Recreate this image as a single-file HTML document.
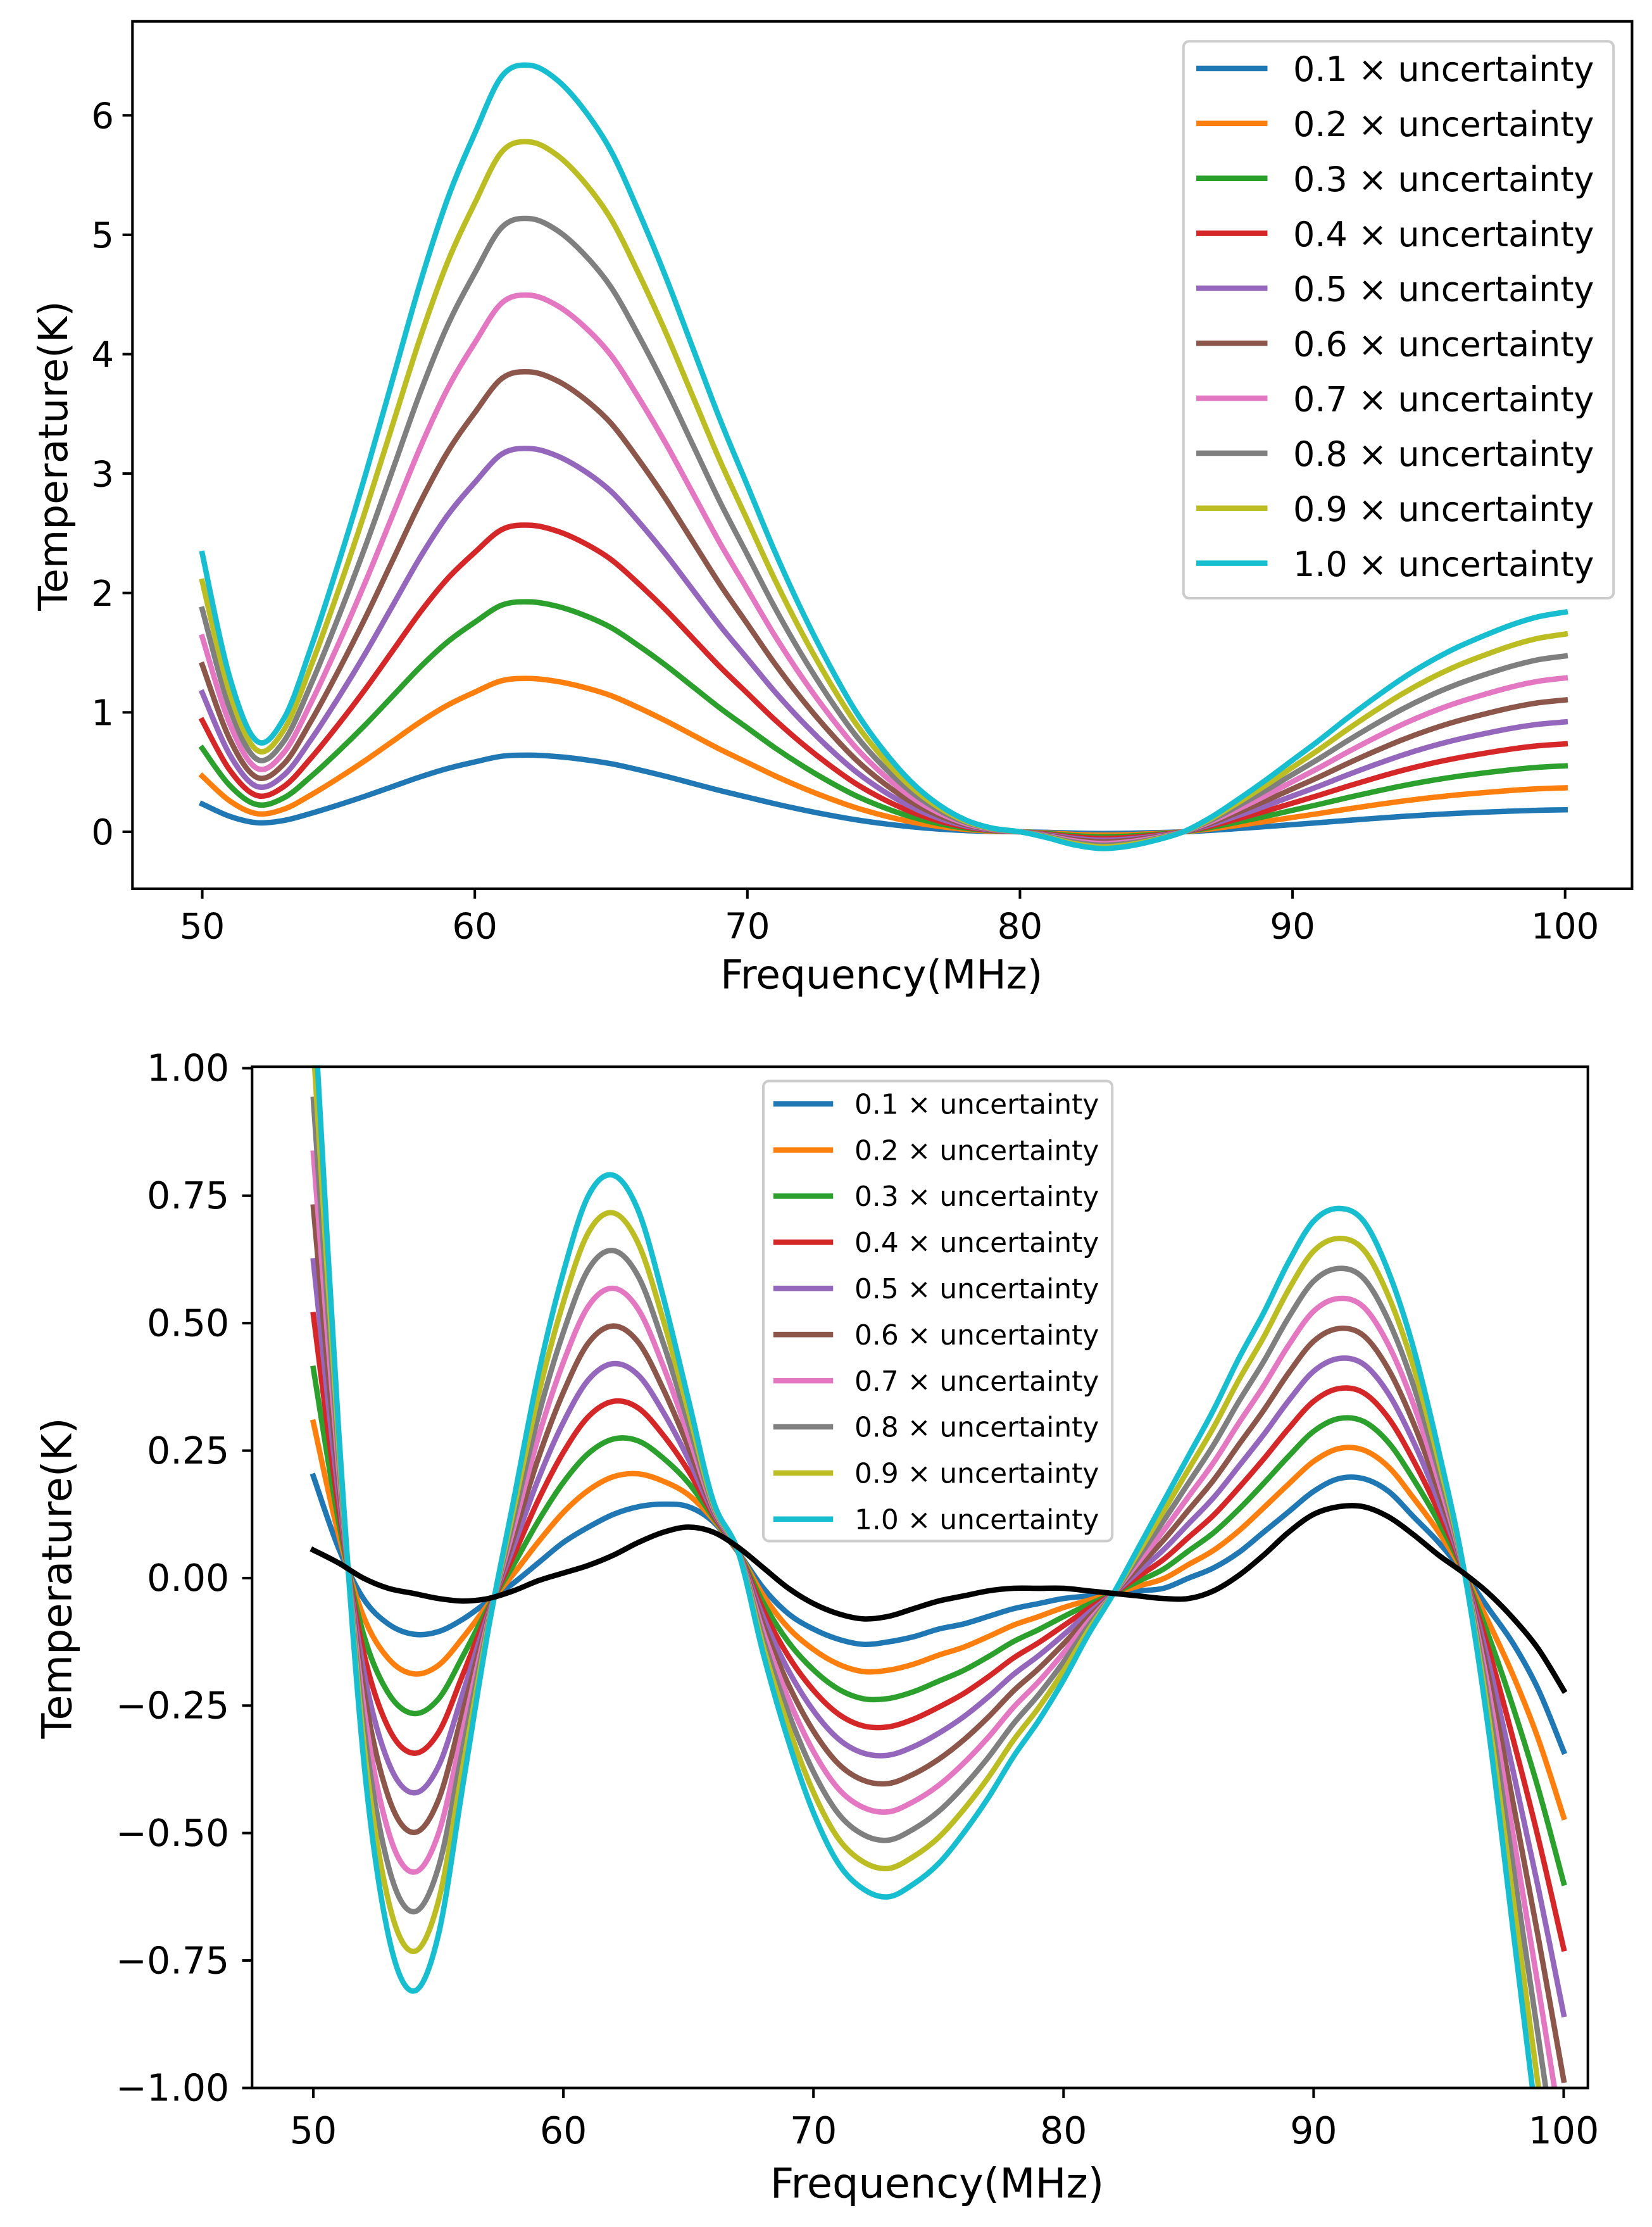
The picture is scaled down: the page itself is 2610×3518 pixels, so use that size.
<!DOCTYPE html>
<html><head><meta charset="utf-8">
<style>
html,body{margin:0;padding:0;background:#fff;width:2610px;height:3518px;overflow:hidden;}
svg{display:block;}
text{font-family:"DejaVu Sans","Liberation Sans",sans-serif;fill:#000;}
</style></head>
<body>
<svg id="fig" width="2610" height="3518" viewBox="0 0 1160 1563.6" xmlns="http://www.w3.org/2000/svg">
<defs>
<clipPath id="clipTop"><rect x="93" y="15" width="1053" height="609"/></clipPath>
<clipPath id="clipBot"><rect x="177" y="748" width="938" height="718"/></clipPath>
</defs>
<g id="topChart"></g>
<g id="botChart"></g>
</svg>
<script>
// ---- data ----
const freqs = [50,51,52,53,54,55,56,57,58,59,60,61,62,63,64,65,66,67,68,69,70,71,72,73,74,75,76,77,78,79,80,81,82,83,84,85,86,87,88,89,90,91,92,93,94,95,96,97,98,99,100];
const scales = [0.1,0.2,0.3,0.4,0.5,0.6,0.7,0.8,0.9,1.0];
const colors = ['#1f77b4','#ff7f0e','#2ca02c','#d62728','#9467bd','#8c564b','#e377c2','#7f7f7f','#bcbd22','#17becf'];
const labels = ['0.1 × uncertainty','0.2 × uncertainty','0.3 × uncertainty','0.4 × uncertainty','0.5 × uncertainty','0.6 × uncertainty','0.7 × uncertainty','0.8 × uncertainty','0.9 × uncertainty','1.0 × uncertainty'];
// top: 1.0 × uncertainty curve; others scale by factor
const topFull = [2.33,1.3,0.76,0.95,1.55,2.25,3.0,3.8,4.6,5.3,5.85,6.33,6.42,6.30,6.05,5.7,5.2,4.65,4.05,3.45,2.9,2.35,1.85,1.4,1.0,0.68,0.42,0.23,0.1,0.03,0.0,-0.05,-0.11,-0.14,-0.12,-0.07,0.0,0.12,0.27,0.43,0.6,0.77,0.95,1.12,1.28,1.42,1.54,1.64,1.73,1.8,1.84];
// bottom: 0.1 and 1.0 curves, intermediate interpolated
const botLow = [0.20,0.06,-0.04,-0.09,-0.11,-0.105,-0.08,-0.045,-0.01,0.03,0.07,0.10,0.125,0.14,0.145,0.14,0.11,0.05,-0.02,-0.07,-0.10,-0.12,-0.13,-0.125,-0.115,-0.10,-0.09,-0.075,-0.06,-0.05,-0.04,-0.035,-0.03,-0.025,-0.02,0.0,0.02,0.05,0.09,0.13,0.17,0.195,0.195,0.17,0.12,0.07,0.01,-0.06,-0.13,-0.22,-0.34];
const botHigh = [1.15,0.30,-0.35,-0.70,-0.81,-0.70,-0.40,-0.10,0.15,0.40,0.60,0.75,0.79,0.72,0.55,0.35,0.15,0.05,-0.15,-0.32,-0.46,-0.56,-0.61,-0.625,-0.60,-0.56,-0.50,-0.43,-0.35,-0.28,-0.20,-0.11,-0.03,0.06,0.15,0.24,0.33,0.43,0.52,0.62,0.70,0.725,0.70,0.60,0.45,0.25,0.02,-0.30,-0.70,-1.10,-1.50];
const botBlack = [0.055,0.03,0.0,-0.02,-0.03,-0.04,-0.045,-0.04,-0.025,-0.005,0.01,0.025,0.045,0.07,0.09,0.10,0.09,0.06,0.02,-0.02,-0.05,-0.07,-0.08,-0.075,-0.06,-0.045,-0.035,-0.025,-0.02,-0.02,-0.02,-0.025,-0.03,-0.035,-0.04,-0.04,-0.025,0.005,0.045,0.09,0.125,0.14,0.14,0.12,0.085,0.045,0.01,-0.03,-0.08,-0.14,-0.22];
const topXTicks = [50,60,70,80,90,100];
const topYTicks = [0,1,2,3,4,5,6];
const botXTicks = [50,60,70,80,90,100];
const botYTicks = [-1.0,-0.75,-0.5,-0.25,0.0,0.25,0.5,0.75,1.0];
const botYLabels = ['\u22121.00','\u22120.75','\u22120.50','\u22120.25','0.00','0.25','0.50','0.75','1.00'];

const LW = 3.8;
const NS='http://www.w3.org/2000/svg';
function mk(parent,tag,attrs,txt){const e=document.createElementNS(NS,tag);for(const k in attrs)e.setAttribute(k,attrs[k]);if(txt!==undefined)e.textContent=txt;parent.appendChild(e);return e;}
function smooth(pts){
  let d='M'+pts[0][0].toFixed(2)+','+pts[0][1].toFixed(2);
  for(let i=0;i<pts.length-1;i++){
    const p0=pts[Math.max(i-1,0)],p1=pts[i],p2=pts[i+1],p3=pts[Math.min(i+2,pts.length-1)];
    const c1=[p1[0]+(p2[0]-p0[0])/6,p1[1]+(p2[1]-p0[1])/6];
    const c2=[p2[0]-(p3[0]-p1[0])/6,p2[1]-(p3[1]-p1[1])/6];
    d+=' C'+c1[0].toFixed(2)+','+c1[1].toFixed(2)+' '+c2[0].toFixed(2)+','+c2[1].toFixed(2)+' '+p2[0].toFixed(2)+','+p2[1].toFixed(2);
  }
  return d;
}

// ---- top chart ----
const topG=document.getElementById('topChart');
const tx=v=>142+(v-50)*(1099-142)/50;
const ty=v=>584-v*(584-81)/6;
const tPlot=mk(topG,'g',{'clip-path':'url(#clipTop)'});


scales.forEach((s,i)=>{
  const pts=freqs.map((f,j)=>[tx(f),ty(topFull[j]*s)]);
  const p=mk(tPlot,'path',{d:smooth(pts),fill:'none',stroke:colors[i],'stroke-width':LW,'stroke-linejoin':'round','stroke-linecap':'square'});
  
  
});
const tFrame=mk(topG,'rect',{x:93,y:15,width:1053,height:609,fill:'none',stroke:'#000','stroke-width':1.8});


topXTicks.forEach(v=>{
  mk(topG,'line',{x1:tx(v),x2:tx(v),y1:624,y2:631,stroke:'#000','stroke-width':1.8});
  const t=mk(topG,'text',{x:tx(v),y:659,'font-size':25,'text-anchor':'middle'},String(v));
  
  
});
topYTicks.forEach(v=>{
  mk(topG,'line',{x1:86,x2:93,y1:ty(v),y2:ty(v),stroke:'#000','stroke-width':1.8});
  const t=mk(topG,'text',{x:80,y:ty(v)+9,'font-size':25,'text-anchor':'end'},String(v));
  
  
});
let e=mk(topG,'text',{x:619,y:694,'font-size':28,'text-anchor':'middle'},'Frequency(MHz)');


e=mk(topG,'text',{x:0,y:0,'font-size':28,'text-anchor':'middle',transform:'translate(47,320) rotate(-90)'},'Temperature(K)');


const tLeg=mk(topG,'g',{});


mk(tLeg,'rect',{x:831,y:29,width:302,height:391,rx:4,fill:'#fff','fill-opacity':0.8,stroke:'#ccc','stroke-width':1.8});
labels.forEach((l,i)=>{
  const y=48+i*38.6;
  const g=mk(tLeg,'g',{});
  
  
  mk(g,'line',{x1:840,x2:890,y1:y,y2:y,stroke:colors[i],'stroke-width':LW});
  mk(g,'text',{x:908,y:y+9,'font-size':24},l);
});

// ---- bottom chart ----
const botG=document.getElementById('botChart');
const bx=v=>220+(v-50)*(1098-220)/50;
const by=v=>1108-v*(1466-750)/2;
const bPlot=mk(botG,'g',{'clip-path':'url(#clipBot)'});


scales.forEach((s,i)=>{
  const w=(s-0.1)/0.9;
  const pts=freqs.map((f,j)=>[bx(f),by(botLow[j]+(botHigh[j]-botLow[j])*w)]);
  const p=mk(bPlot,'path',{d:smooth(pts),fill:'none',stroke:colors[i],'stroke-width':LW,'stroke-linejoin':'round','stroke-linecap':'square'});
  
  
});
const blk=mk(bPlot,'path',{d:smooth(freqs.map((f,j)=>[bx(f),by(botBlack[j])])),fill:'none',stroke:'#000','stroke-width':LW,'stroke-linecap':'square'});


const bFrame=mk(botG,'rect',{x:177,y:749,width:938,height:717,fill:'none',stroke:'#000','stroke-width':1.8});


botXTicks.forEach(v=>{
  mk(botG,'line',{x1:bx(v),x2:bx(v),y1:1466,y2:1473,stroke:'#000','stroke-width':1.8});
  const t=mk(botG,'text',{x:bx(v),y:1505,'font-size':26,'text-anchor':'middle'},String(v));
  
  
});
botYTicks.forEach((v,i)=>{
  mk(botG,'line',{x1:170,x2:177,y1:by(v),y2:by(v),stroke:'#000','stroke-width':1.8});
  const t=mk(botG,'text',{x:161,y:by(v)+9,'font-size':26,'text-anchor':'end'},botYLabels[i]);
  
  
});
e=mk(botG,'text',{x:658,y:1543,'font-size':29,'text-anchor':'middle'},'Frequency(MHz)');


e=mk(botG,'text',{x:0,y:0,'font-size':29,'text-anchor':'middle',transform:'translate(50,1108) rotate(-90)'},'Temperature(K)');


const bLeg=mk(botG,'g',{});


mk(bLeg,'rect',{x:536,y:759,width:245,height:323,rx:4,fill:'#fff','fill-opacity':0.8,stroke:'#ccc','stroke-width':1.8});
labels.forEach((l,i)=>{
  const y=775+i*32.4;
  const g=mk(bLeg,'g',{});
  
  
  mk(g,'line',{x1:543,x2:585,y1:y,y2:y,stroke:colors[i],'stroke-width':LW});
  mk(g,'text',{x:600,y:y+7,'font-size':19.5},l);
});
</script>
</body></html>
